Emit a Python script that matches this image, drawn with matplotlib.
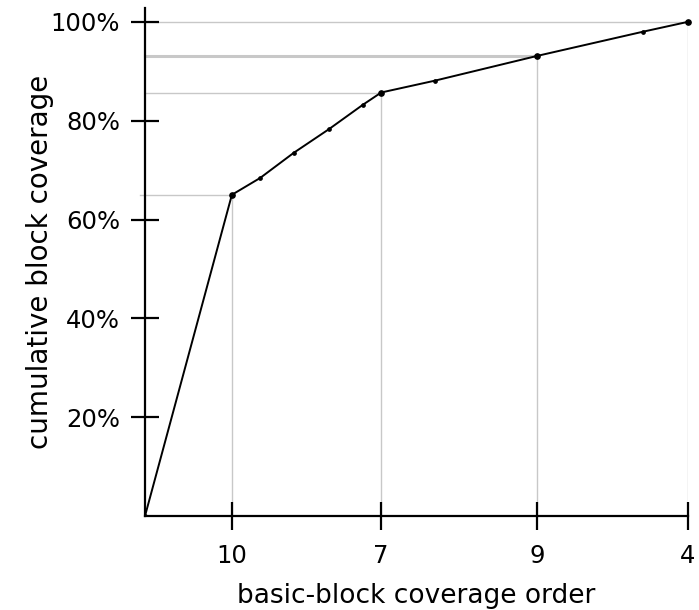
"""Cumulative basic-block coverage as tests are added in coverage order."""

import matplotlib
matplotlib.use("Agg")
import matplotlib.pyplot as plt
from matplotlib.ticker import FuncFormatter

# position along the ordering axis (arbitrary units, 0..100)
order_pos = [0, 16.0, 21.2, 27.4, 33.9, 40.1, 43.5, 53.4, 72.2, 91.7, 100]
# cumulative block coverage, percent
coverage = [0, 65.0, 68.4, 73.5, 78.3, 83.2, 85.7, 88.1, 93.1, 98.0, 100]

# labelled tests and where they sit on the curve
test_names = ["10", "7", "9", "4"]
test_pos = [16.0, 43.5, 72.2, 100]
test_cov = [65.0, 85.7, 93.1, 100]

y_ticks = [20, 40, 60, 80, 100]


def main() -> None:
    plt.rcParams["font.family"] = "DejaVu Sans"
    fig = plt.figure(figsize=(6.99, 6.10), dpi=100)
    ax = fig.add_axes([145 / 699, 94 / 610, 543 / 699, 508 / 610])

    grey = "#c8c8c8"
    for i, (x, y) in enumerate(zip(test_pos, test_cov)):
        lw = 2.2 if test_names[i] == "9" else 1.0
        ax.plot([-1.0 if i == 0 else 0, x], [y, y], color=grey, lw=lw,
                zorder=1, clip_on=False)
        ax.plot([x, x], [0, y], color=grey, lw=1.0, zorder=1)

    ax.plot(order_pos, coverage, color="black", lw=1.4, zorder=3,
            marker="o", markersize=2.4)
    ax.plot(test_pos, test_cov, "o", color="black", markersize=3.8, zorder=4,
            clip_on=False)

    ax.set_xlim(0, 100)
    ax.set_ylim(0, 102.8)
    ax.set_xticks(test_pos)
    ax.set_xticklabels(test_names)
    ax.set_yticks(y_ticks)
    ax.yaxis.set_major_formatter(FuncFormatter(lambda v, _: f"{v:.0f}%"))

    for side in ("top", "right"):
        ax.spines[side].set_visible(False)
    for side in ("left", "bottom"):
        ax.spines[side].set_linewidth(1.6)

    ax.tick_params(direction="inout", length=20, width=1.6, pad=8,
                   labelsize=17.5)
    ax.tick_params(axis="x", pad=10)

    ax.set_xlabel("basic-block coverage order", fontsize=19, labelpad=11)
    ax.set_ylabel("cumulative block coverage", fontsize=20)
    ax.yaxis.set_label_coords(-0.168, 0.5)

    fig.savefig("out.png", dpi=100)


if __name__ == "__main__":
    main()
